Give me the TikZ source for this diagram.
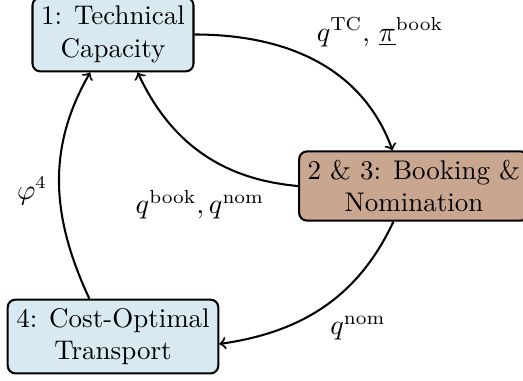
\documentclass[tikz,border=0pt]{standalone}
\usepackage{amsmath}
\usepackage{amssymb}
\usepackage{tikz}
\definecolor{stepblue}{RGB}{216,233,242}
\definecolor{stepbrown}{RGB}{201,166,144}
\tikzset{
    stage/.style={
        draw, thick, rounded corners=3pt, align=center,
        fill=stepblue
    },
    flow/.style={
        thick, ->
    }
}

\begin{document}
\begin{tikzpicture}[font=\fontsize{10.5}{12.6}\selectfont]
		\useasboundingbox (0,0) rectangle (7.155,5.212);

		% Stages
		\node[stage] (tc) at (1.546,4.74) {1: Technical\\Capacity};
		\node[stage, fill=stepbrown] (bn) at (5.663,2.667) {2 \& 3: Booking \&\\Nomination};
		\node[stage] (co) at (1.546,0.608) {4: Cost-Optimal\\Transport};

		% Flows between the stages
		\draw[flow] (tc.east) to[out=0,in=110] (bn.121);
		\draw[flow] (bn.west) to[out=175,in=-65] (tc.303);
		\draw[flow] (bn.240) to[out=245,in=8] (co.-4);
		\draw[flow] (co.122) to[out=115,in=240] (tc.239);

		% Labels
		\node (lTC) at (5.198,4.773) {$q^{\text{TC}}$, $\underline{\pi}^{\text{book}}$};
		\node (lBook) at (2.736,2.408) {$q^{\text{book}}, q^{\text{nom}}$};
		\node (lNom) at (4.897,0.725) {$q^{\text{nom}}$};
		\node (lPhi) at (0.438,2.599) {$\varphi^4$};

	\end{tikzpicture}
\end{document}
